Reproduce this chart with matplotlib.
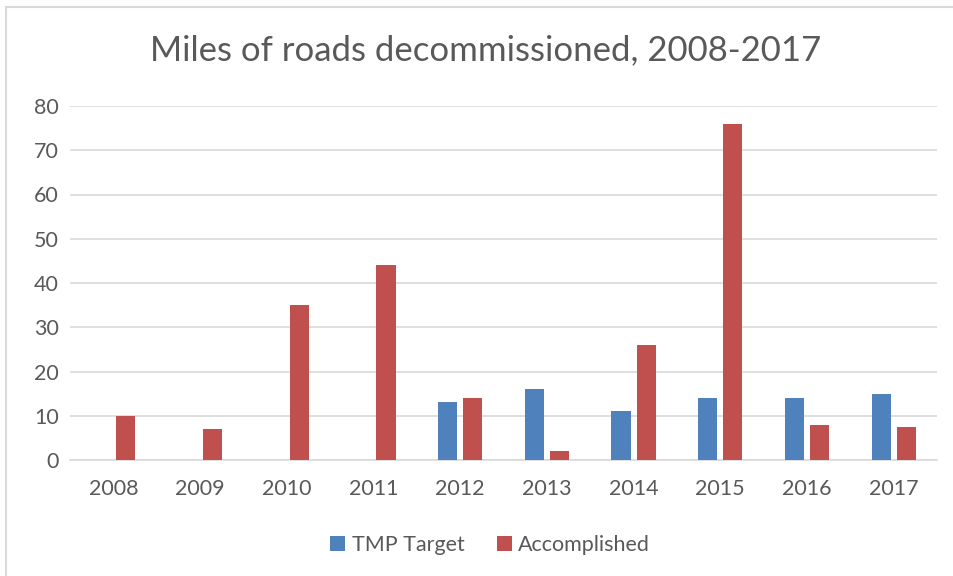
import matplotlib.pyplot as plt
import numpy as np
from matplotlib.patches import Rectangle

years = ['2008', '2009', '2010', '2011', '2012', '2013', '2014', '2015', '2016', '2017']
target = [0, 0, 0, 0, 13, 16, 11, 14, 14, 15]
accomplished = [10, 7, 35, 44, 14, 2, 26, 76, 8, 7.5]

plt.rcParams['font.family'] = ['Lato', 'DejaVu Sans']

fig = plt.figure(figsize=(9.54, 5.76), dpi=100)
ax = fig.add_axes([70/954, 1-460/576, 867/954, 354/576])

# light frame around the chart area
fig.patches.append(Rectangle((6/954, -0.1), 2, 1 - 7/576 + 0.1, transform=fig.transFigure,
                             fill=False, edgecolor='#D9D9D9', linewidth=1.5))

x = np.arange(len(years))
w = 0.22
ax.bar(x - 0.145, target, w, color='#4F81BD', label='TMP Target', zorder=3)
ax.bar(x + 0.145, accomplished, w, color='#C0504D', label='Accomplished', zorder=3)

ax.set_xlim(-0.5, len(years) - 0.5)
ax.set_ylim(0, 80)
ax.set_yticks(range(0, 81, 10))
ax.set_xticks(x)
ax.set_xticklabels(years)
ax.grid(axis='y', color='#D9D9D9', linewidth=1.2, zorder=0)
for s in ['top', 'right', 'left']:
    ax.spines[s].set_visible(False)
ax.spines['bottom'].set_color('#D9D9D9')
ax.spines['bottom'].set_linewidth(1.2)
ax.tick_params(length=0, labelsize=15.5, colors='#595959', pad=8)
ax.tick_params(axis='x', pad=14)

fig.text(486/954, 1-50/576, 'Miles of roads decommissioned, 2008-2017', ha='center', va='center',
         fontsize=25, color='#595959')

fig.legend(loc='center', bbox_to_anchor=(490/954, 1-545/576), ncol=2, frameon=False,
           fontsize=15.5, labelcolor='#595959', handlelength=0.7, handleheight=0.7,
           handletextpad=0.3, columnspacing=1.5)

fig.savefig('out.png', dpi=100)
